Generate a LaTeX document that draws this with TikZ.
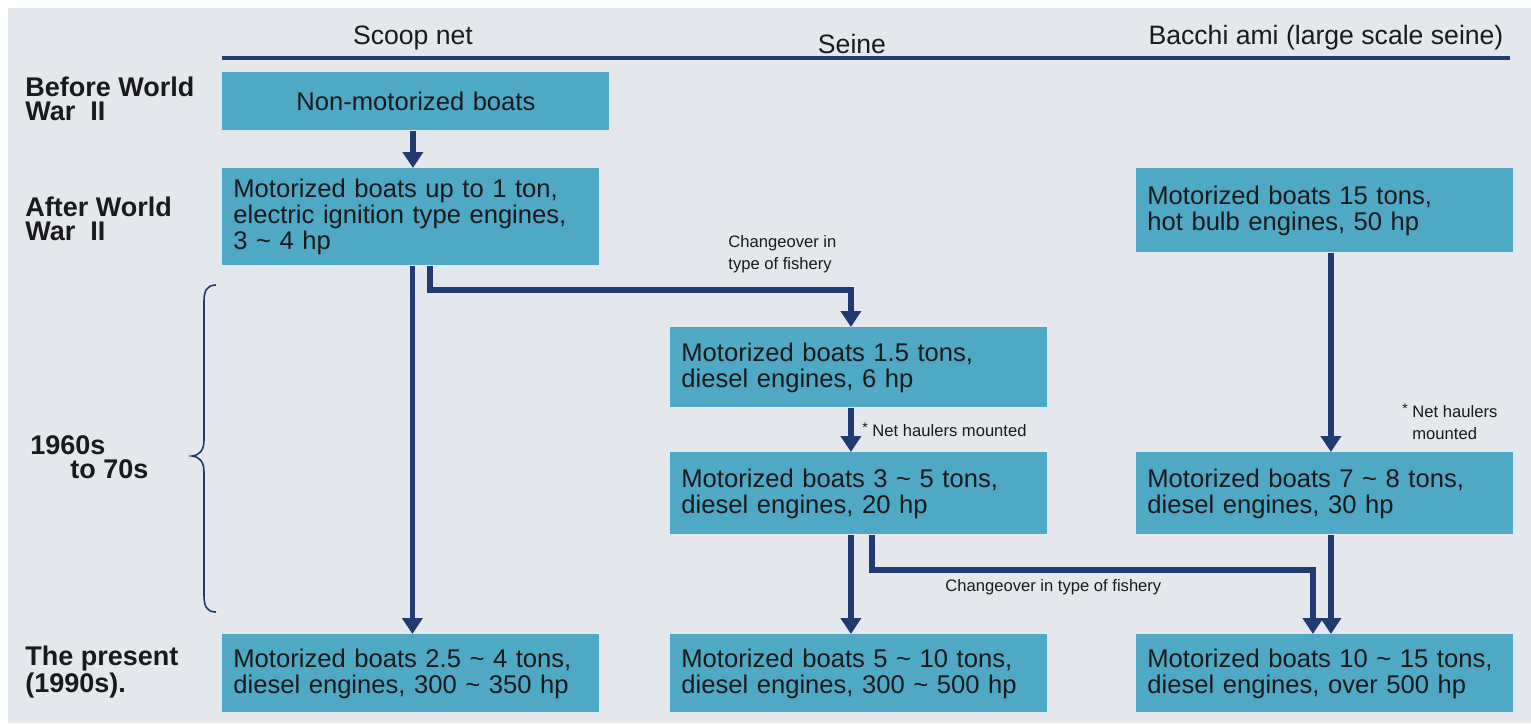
\documentclass[tikz,border=0pt]{standalone}
\usepackage{fontspec}
\setmainfont{Liberation Sans}
\usetikzlibrary{arrows.meta}
\definecolor{bgc}{HTML}{E4E7EB}
\definecolor{boxc}{HTML}{4FA8C4}
\definecolor{navy}{HTML}{1F3B70}
\definecolor{ink}{HTML}{1A1A1A}
\begin{document}
\begin{tikzpicture}[x=0.5pt,y=-0.5pt,
  bx/.style={fill=boxc, anchor=north west, inner xsep=5.5pt, inner ysep=0pt,
    text width=177.5pt, align=left, minimum width=188.5pt, text=ink,
    font=\fontsize{12.8}{13}\selectfont},
  rowlab/.style={anchor=west, align=left, inner sep=0pt, text=ink,
    font=\fontsize{13.5}{12}\selectfont\bfseries},
  head/.style={inner sep=0pt, text=ink, font=\fontsize{13.3}{14}\selectfont},
  small/.style={inner sep=0pt, text=ink, align=left, font=\fontsize{8.3}{11}\selectfont},
  arr/.style={draw=navy, line width=2.9pt, -{Triangle[width=10pt,length=8pt]}}]
\useasboundingbox (0,0) rectangle (1531,723);
\fill[white] (0,0) rectangle (1531,723);
\fill[bgc] (8,8) rectangle (1531,723);

% headers
\node[head] (h1) at (413,38) {Scoop net};
\node[head] (h2) at (852,44) {Seine};
\node[head] (h3) at (1326,38) {Bacchi ami (large scale seine)};
\draw[navy, line width=1.6pt] (222,58) -- (1510,58);

% row labels
\node[rowlab] (r1) at (25,99) {Before World\\War\ \ II};
\node[rowlab] (r2) at (25,219) {After World\\War\ \ II};
\node[rowlab] (r3) at (30,457) {1960s\\\hspace*{20pt}to 70s};
\node[rowlab] (r4) at (25,672) {The present\\(1990s).};

% brace
\draw[navy, line width=0.8pt] (216,285) .. controls (206,285) and (204,292) .. (204,302)
  -- (204,440) .. controls (204,450) and (200,455) .. (192,456)
  .. controls (200,457) and (204,462) .. (204,472)
  -- (204,595) .. controls (204,605) and (206,612) .. (216,612);

% boxes
\node[bx, minimum width=193.5pt, text width=182.5pt, align=center, minimum height=29pt] (A) at (222,72) {Non-motorized boats};
\node[bx, minimum height=48.5pt] (B) at (222,168) {Motorized boats up to 1 ton,\\electric ignition type engines,\\3 \char`~\ 4 hp};
\node[bx, minimum height=42pt] (C) at (1136,168) {Motorized boats 15 tons,\\hot bulb engines, 50 hp};
\node[bx, minimum height=40pt] (D) at (670,327) {Motorized boats 1.5 tons,\\diesel engines, 6 hp};
\node[bx, minimum height=41pt] (E) at (670,452) {Motorized boats 3 \char`~\ 5 tons,\\diesel engines, 20 hp};
\node[bx, minimum height=41pt] (F) at (1136,452) {Motorized boats 7 \char`~\ 8 tons,\\diesel engines, 30 hp};
\node[bx, minimum height=39pt] (G) at (222,634) {Motorized boats 2.5 \char`~\ 4 tons,\\diesel engines, 300 \char`~\ 350 hp};
\node[bx, minimum height=39pt] (H) at (670,634) {Motorized boats 5 \char`~\ 10 tons,\\diesel engines, 300 \char`~\ 500 hp};
\node[bx, minimum height=39pt] (I) at (1136,634) {Motorized boats 10 \char`~\ 15 tons,\\diesel engines, over 500 hp};

% connectors
\coordinate (k1) at (430,290);
\coordinate (k2) at (872,570);
\draw[arr] ([xshift=-1.5pt]A.south) -- ([xshift=-1.5pt]A.south |- B.north);
\draw[arr] ([xshift=0.75pt]B.south) -- ([xshift=0.75pt]B.south |- G.north);
\draw[arr] (B.south -| k1) -- (k1) -| ([xshift=-4pt]D.north);
\draw[arr] ([xshift=-4pt]D.south) -- ([xshift=-4pt]E.north);
\draw[arr] ([xshift=-4pt]E.south) -- ([xshift=-4pt]H.north);
\draw[arr] (E.south -| k2) -- (k2) -| ([xshift=-6pt]I.north);
\draw[arr] ([xshift=3pt]C.south) -- ([xshift=3pt]F.north);
\draw[arr] ([xshift=3pt]F.south) -- ([xshift=3pt]I.north);

% connector labels
\node[small, anchor=west] (l1) at (728,254) {Changeover in\\type of fishery};
\node[small, anchor=west] (l2) at (862,430) {\raisebox{2pt}{\scriptsize *} Net haulers mounted};
\node[small, anchor=west] (l3) at (945,587) {Changeover in type of fishery};
\node[small, anchor=west] (l4) at (1402,422) {\raisebox{2pt}{\scriptsize *} Net haulers\\\hspace*{5pt}mounted};
\end{tikzpicture}
\end{document}
